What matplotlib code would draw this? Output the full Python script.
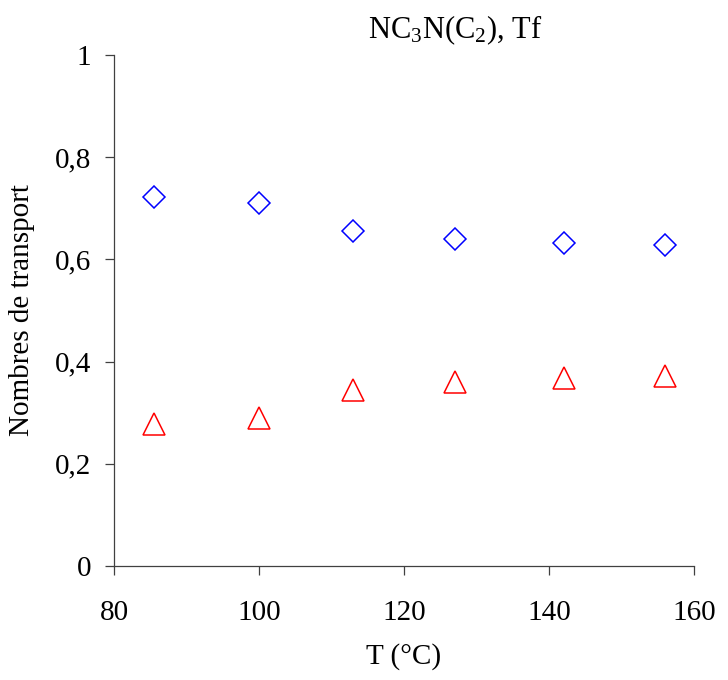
import matplotlib
matplotlib.use("Agg")
import matplotlib.pyplot as plt

plt.rcParams['font.family'] = ['Liberation Serif', 'DejaVu Serif']
plt.rcParams['mathtext.fontset'] = 'custom'
plt.rcParams['mathtext.rm'] = 'Liberation Serif'
plt.rcParams['mathtext.it'] = 'Liberation Serif:italic'

T = [85.5, 100, 113, 127, 142, 156]
t_cation = [0.722, 0.710, 0.656, 0.640, 0.632, 0.628]
t_anion = [0.278, 0.290, 0.344, 0.360, 0.368, 0.372]
xticks = [80, 100, 120, 140, 160]
yticks = [0, 0.2, 0.4, 0.6, 0.8, 1]
ytick_labels = ["0", "0,2", "0,4", "0,6", "0,8", "1"]

fig = plt.figure(figsize=(7.28, 6.8), dpi=100)
ax = fig.add_axes([114/728, 1-566/680, (694-114)/728, (566-55)/680])

ax.plot(T, t_cation, linestyle='none', marker='D', markersize=11.7,
        markerfacecolor='none', markeredgecolor='#0000ff', markeredgewidth=1.1)
ax.plot(T, t_anion, linestyle='none', marker='^', markersize=16.5,
        markerfacecolor='none', markeredgecolor='#ff0000', markeredgewidth=1.1)

ax.set_xlim(80, 160)
ax.set_ylim(0, 1)
ax.set_xticks(xticks)
ax.set_xticklabels([str(v) for v in xticks])
ax.set_yticks(yticks)
ax.set_yticklabels(ytick_labels)

for s in ['top', 'right']:
    ax.spines[s].set_visible(False)
for s in ['left', 'bottom']:
    ax.spines[s].set_color('#404040')
    ax.spines[s].set_linewidth(0.9)

ax.tick_params(axis='both', direction='out', length=6.5, width=0.9, color='#404040',
               labelsize=21, labelcolor='black')
ax.tick_params(axis='x', pad=18)
ax.tick_params(axis='y', pad=10)

ax.set_xlabel("T (°C)", fontsize=21, labelpad=12)
ax.set_ylabel("Nombres de transport", fontsize=21, labelpad=14)

fig.text(455/728, 1-30/680, r"NC$_3$N(C$_2$), Tf", fontsize=22,
         ha='center', va='center')

fig.savefig("out.png", dpi=100)
